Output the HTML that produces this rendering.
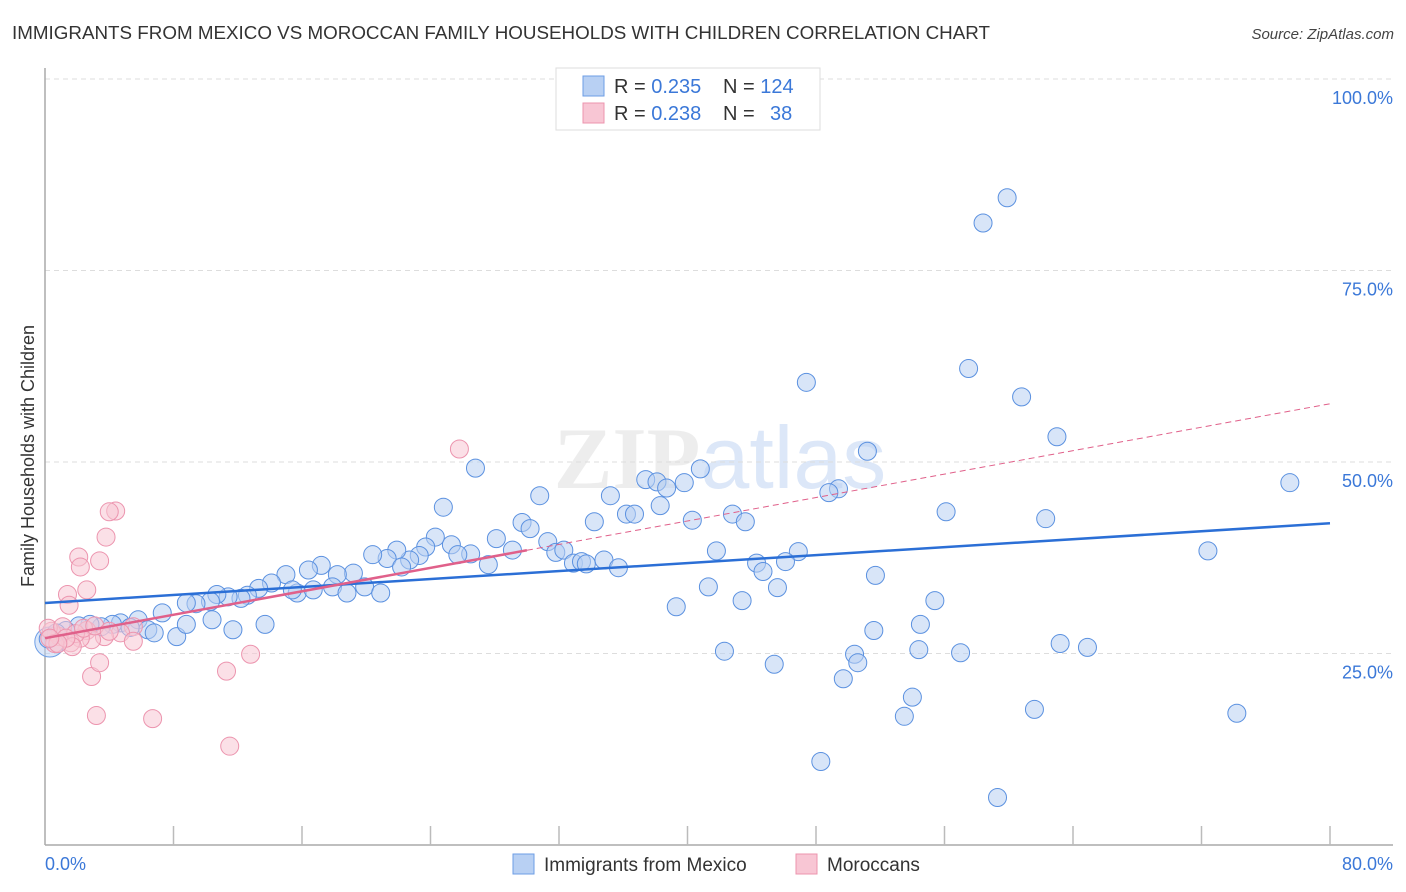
<!DOCTYPE html>
<html><head><meta charset="utf-8"><style>
body{margin:0;background:#fff;font-family:"Liberation Sans",sans-serif}
svg{display:block}
</style></head><body>
<svg id="chart" width="1406" height="892" xmlns="http://www.w3.org/2000/svg" font-family="Liberation Sans, sans-serif">
<text x="12" y="39" font-size="18" fill="#333" textLength="978" lengthAdjust="spacingAndGlyphs">IMMIGRANTS FROM MEXICO VS MOROCCAN FAMILY HOUSEHOLDS WITH CHILDREN CORRELATION CHART</text>
<text x="1394" y="39" font-size="15" fill="#444" font-style="italic" text-anchor="end">Source: ZipAtlas.com</text>
<text x="720" y="488" font-size="88" fill="#000" fill-opacity="0.07" text-anchor="middle" font-family="Liberation Serif, serif" font-weight="bold">ZIP<tspan fill="#3b78d8" fill-opacity="0.5" font-family="Liberation Sans, sans-serif" font-weight="normal" opacity="0.35">atlas</tspan></text>
<text transform="translate(34,456) rotate(-90)" font-size="18" fill="#333" text-anchor="middle">Family Households with Children</text>
<g id="grid"></g><g id="pts"></g><g id="lines"></g>
<g>
<rect x="556" y="68" width="264" height="62" fill="#fff" stroke="#ddd"/>
<rect x="583" y="76" width="21" height="20" fill="#b8d0f3" stroke="#6d9ee6"/>
<rect x="583" y="103" width="21" height="20" fill="#f8c6d4" stroke="#ec94ae"/>
<text x="614" y="93" font-size="20" fill="#333">R = <tspan fill="#3b78d8">0.235</tspan><tspan x="723">N = </tspan><tspan fill="#3b78d8">124</tspan></text>
<text x="614" y="120" font-size="20" fill="#333">R = <tspan fill="#3b78d8">0.238</tspan><tspan x="723">N = </tspan><tspan fill="#3b78d8" x="770">38</tspan></text>
</g>
<g>
<rect x="513" y="854" width="21" height="20" fill="#b8d0f3" stroke="#6d9ee6"/>
<text x="544" y="871" font-size="19" fill="#333">Immigrants from Mexico</text>
<rect x="796" y="854" width="21" height="20" fill="#f8c6d4" stroke="#ec94ae"/>
<text x="827" y="871" font-size="19" fill="#333">Moroccans</text>
</g>
</svg>
<script>
const mexX=[59.9,58.4,47.4,57.5,60.8,63.0,51.2,77.5,49.4,48.8,26.8,24.8,30.8,35.2,37.4,38.1,38.7,39.8,40.8,38.3,36.2,36.7,42.8,43.6,40.3,56.1,62.3,29.7,30.2,34.2,72.4,41.8,46.9,44.3,44.7,46.1,31.3,31.8,32.3,32.9,33.4,33.7,34.8,35.7,28.1,29.1,27.6,25.3,24.3,26.5,25.7,23.7,23.3,22.7,21.9,21.3,22.2,20.4,19.2,18.2,17.2,16.4,15.0,15.7,15.4,16.7,17.9,18.8,19.9,20.9,14.1,13.3,12.6,12.2,11.4,10.7,10.3,9.4,8.8,7.3,5.8,4.7,4.2,3.5,2.8,2.1,1.3,0.7,0.2,6.4,6.8,8.2,8.8,10.4,11.7,13.7,5.3,51.7,55.4,54.5,51.6,41.3,43.4,45.6,39.3,42.3,45.4,49.7,50.4,50.6,54.4,57.0,63.2,64.9,54.0,53.5,61.6,74.2,48.3,59.3];
const mexY=[84.5,81.2,60.4,62.2,58.5,53.3,51.4,47.3,46.5,46.0,49.2,44.1,45.6,45.6,47.7,47.4,46.6,47.3,49.1,44.3,43.2,43.2,43.2,42.2,42.4,43.5,42.6,42.1,41.3,42.2,38.4,38.4,38.3,36.8,35.7,37.0,39.6,38.2,38.5,36.8,37.0,36.7,37.2,36.2,40.0,38.5,36.6,39.2,40.2,38.0,37.9,38.9,37.8,37.2,38.5,37.4,36.3,37.9,35.5,35.3,36.5,35.9,35.3,32.9,33.3,33.3,33.7,32.9,33.7,32.9,34.2,33.5,32.6,32.2,32.4,32.7,31.8,31.5,31.6,30.3,29.4,29.0,28.8,28.5,28.8,28.6,28.0,27.7,26.9,28.1,27.7,27.2,28.8,29.4,28.1,28.8,28.4,35.2,31.9,28.8,28.0,33.7,31.9,33.6,31.1,25.3,23.6,21.7,24.9,23.8,25.5,25.1,26.3,25.8,19.3,16.8,17.7,17.2,10.9,6.2];
const morX=[25.8,4.4,4.0,3.8,3.4,2.1,2.2,2.6,1.4,1.5,11.5,6.7,3.2,2.9,3.4,11.3,12.8,5.5,4.7,5.5,3.7,2.6,2.9,2.2,1.6,0.9,0.4,0.2,0.6,1.1,1.9,1.7,1.3,0.8,0.3,2.4,3.1,4.0];
const morY=[51.7,43.6,43.5,40.2,37.1,37.6,36.3,33.3,32.7,31.3,12.9,16.5,16.9,22.0,23.8,22.7,24.9,28.5,27.7,26.6,27.2,28.0,26.8,27.0,26.4,27.2,27.9,28.3,26.3,28.5,27.6,25.9,27.0,26.3,27.0,28.3,28.6,27.9];
const mexTrend=[31.6,42.0]; // y at x=0 and x=80
const morTrend=[27.0,57.6];
const yTicks=[25,50,75,100];
const yTickLabels=["25.0%","50.0%","75.0%","100.0%"];
const xTickVals=[8,16,24,32,40,48,56,64,72,80];

const NS="http://www.w3.org/2000/svg";
const X=v=>45+v*(1285/80), Y=v=>845-v*7.66;
function mk(tag,parent,attrs){const e=document.createElementNS(NS,tag);for(const k in attrs)e.setAttribute(k,attrs[k]);parent.appendChild(e);return e;}
const grid=document.getElementById('grid'),pts=document.getElementById('pts'),lines=document.getElementById('lines');
yTicks.forEach((t,i)=>{
 const l=mk('line',grid,{x1:45,x2:1393,y1:Y(t),y2:Y(t),stroke:'#ddd','stroke-dasharray':'5,4'});
 
 
 const tx=mk('text',grid,{x:1393,y:Y(t)+25,'font-size':18,fill:'#3b78d8','text-anchor':'end'});
 tx.textContent=yTickLabels[i];
 
 
});
const ax=mk('line',grid,{x1:45,x2:45,y1:68,y2:845,stroke:'#aaa','stroke-width':1.5});


const bx=mk('line',grid,{x1:45,x2:1393,y1:845,y2:845,stroke:'#aaa','stroke-width':1.5});


xTickVals.forEach(v=>{
 const t=mk('line',grid,{x1:X(v),x2:X(v),y1:826,y2:845,stroke:'#bbb','stroke-width':1.5});
 
 
});
const x0=mk('text',grid,{x:45,y:870,'font-size':18,fill:'#3b78d8'});x0.textContent='0.0%';


const x1=mk('text',grid,{x:1393,y:870,'font-size':18,fill:'#3b78d8','text-anchor':'end'});x1.textContent='80.0%';


const big=mk('circle',pts,{cx:X(0.3),cy:Y(26.5),r:15,fill:'#b8d0f3','fill-opacity':0.5,stroke:'#6d9ee6'});


mexX.forEach((v,i)=>{
 const c=mk('circle',pts,{cx:X(v),cy:Y(mexY[i]),r:9,fill:'#b8d0f3','fill-opacity':0.55,stroke:'#5b91e0','stroke-width':1});
 
 
});
morX.forEach((v,i)=>{
 const c=mk('circle',pts,{cx:X(v),cy:Y(morY[i]),r:9,fill:'#f8c6d4','fill-opacity':0.55,stroke:'#ec94ae','stroke-width':1});
 
 
});
const tb=mk('line',lines,{x1:X(0),y1:Y(mexTrend[0]),x2:X(80),y2:Y(mexTrend[1]),stroke:'#2b6fd6','stroke-width':2.5});


const ym=x=>morTrend[0]+(morTrend[1]-morTrend[0])*x/80;
const tp=mk('line',lines,{x1:X(0),y1:Y(ym(0)),x2:X(30),y2:Y(ym(30)),stroke:'#e0608a','stroke-width':2.5});


const td=mk('line',lines,{x1:X(30),y1:Y(ym(30)),x2:X(80),y2:Y(ym(80)),stroke:'#e0608a','stroke-width':1,'stroke-dasharray':'6,4'});


</script>
</body></html>
